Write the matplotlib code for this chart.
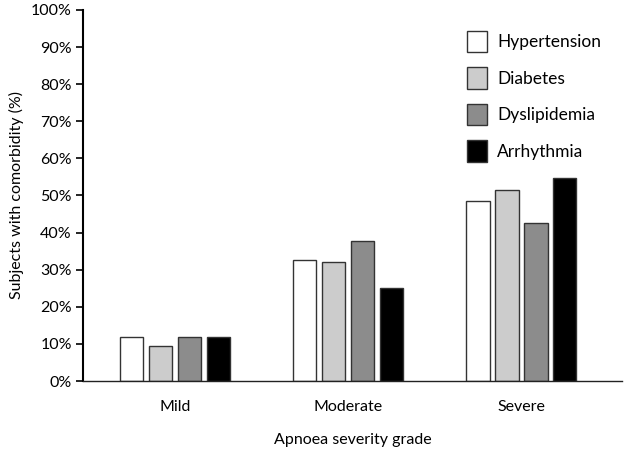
import matplotlib
matplotlib.use("Agg")
import matplotlib.pyplot as plt
import numpy as np
from matplotlib.ticker import PercentFormatter
from matplotlib.patches import Patch

plt.rcParams['font.family'] = ['Lato', 'DejaVu Sans']

categories = ["Mild", "Moderate", "Severe"]
series_names = ["Hypertension", "Diabetes", "Dyslipidemia", "Arrhythmia"]
hypertension = [11.8, 32.5, 48.5]
diabetes = [9.4, 32.2, 51.6]
dyslipidemia = [11.8, 37.8, 42.5]
arrhythmia = [11.8, 25.0, 54.8]
series = [hypertension, diabetes, dyslipidemia, arrhythmia]
colors = ["#ffffff", "#cccccc", "#8c8c8c", "#000000"]
yticks = list(range(0, 101, 10))

fig = plt.figure(figsize=(6.25, 4.5), dpi=100)
ax = fig.add_axes([0.1328, 0.1533, 0.8622, 0.8247])

x = np.arange(len(categories))
step = 0.167
width = 0.135
for i, (vals, c) in enumerate(zip(series, colors)):
    ax.bar(x + (i - 1.5) * step, vals, width, color=c, edgecolor="#333333", linewidth=1.0,
           label=series_names[i])

ax.set_xlim(-0.53, 2.58)
ax.set_ylim(0, 100)
ax.set_yticks(yticks)
ax.yaxis.set_major_formatter(PercentFormatter(decimals=0))
ax.set_xticks(x)
ax.set_xticklabels(categories)
ax.tick_params(axis='x', length=0, pad=14, labelsize=11.5)
ax.tick_params(axis='y', length=5, width=1.2, direction='out', labelsize=11.5, pad=3)
for s in ['top', 'right']:
    ax.spines[s].set_visible(False)
ax.spines['left'].set_linewidth(1.5)
ax.spines['bottom'].set_linewidth(1.0)
ax.spines['bottom'].set_color("#222222")

ax.set_ylabel("Subjects with comorbidity (%)", fontsize=11.5, labelpad=5)
ax.set_xlabel("Apnoea severity grade", fontsize=11.5, labelpad=13)

handles = [Patch(facecolor=c, edgecolor="#333333", linewidth=1.0) for c in colors]
leg = ax.legend(handles, series_names, loc='upper left', bbox_to_anchor=(0.7124, 0.944),
                frameon=False, fontsize=12.5, handlelength=1.15, handleheight=1.55,
                labelspacing=0.85, handletextpad=0.6, borderpad=0, borderaxespad=0)

fig.savefig("out.png", dpi=100)
